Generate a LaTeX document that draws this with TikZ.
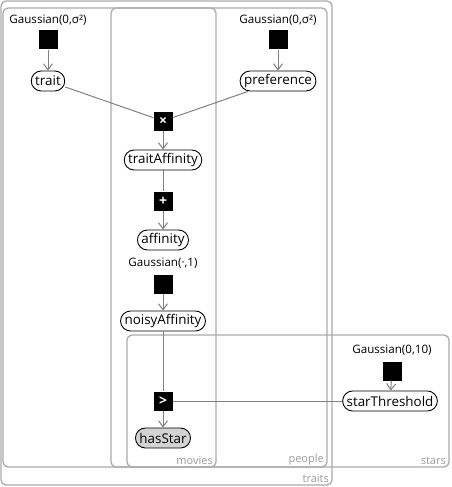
\documentclass[tikz,border=0pt]{standalone}
\usepackage{fontspec}
\setmainfont{Open Sans}
\usepackage{tikz}
\usepackage{xcolor}
\usetikzlibrary{arrows.meta,positioning}
\definecolor{PlateGray}{HTML}{ABABAB}
\definecolor{EdgeGray}{HTML}{808080}
\definecolor{ObsGray}{HTML}{D3D3D3}

\begin{document}
\begin{tikzpicture}[x=1pt, y=-1pt, >={Straight Barb[length=6pt,width=9pt]},
    var/.style={draw, line width=0.9pt, fill=white, rounded corners=10pt, minimum height=20pt, inner xsep=4pt, inner ysep=0pt, font=\fontsize{13.4}{14}\selectfont},
    obs/.style={var, fill=ObsGray},
    factor/.style={fill=black, minimum size=19pt, inner sep=0pt, text=white, font=\fontsize{14}{14}\selectfont\bfseries},
    dist/.style={font=\fontsize{11.6}{12}\selectfont},
    edge/.style={EdgeGray, line width=1pt},
    plate/.style={PlateGray, line width=1.3pt, rounded corners=5pt},
    platelabel/.style={text=PlateGray!90!black, anchor=south east, inner sep=1pt, font=\fontsize{11}{12}\selectfont}]
    \useasboundingbox (0,0) rectangle (451,487);

    % Plates
    \draw[plate] (1,1) rectangle (332,485);
    \node[platelabel] (traitslbl) at (330,484) {traits};
    \draw[plate] (3,8) rectangle (327,467);
    \node[platelabel] (peoplelbl) at (325,466) {people};
    \draw[plate] (111,8) rectangle (216,467);
    \node[platelabel] (movieslbl) at (214,466) {movies};
    \draw[plate] (127,335) rectangle (449,467);
    \node[platelabel] (starslbl) at (447,466) {stars};

    % Trait and preference priors
    \node[dist] (gtraitlbl) at (48,20) {Gaussian(0,σ²)};
    \node[factor] (gtrait) at (48,40) {};
    \node[var] (trait) at (48,81) {trait};
    \node[dist] (gpreflbl) at (278,20) {Gaussian(0,σ²)};
    \node[factor] (gpref) at (278,40) {};
    \node[var] (preference) at (278,81) {preference};

    % Affinity chain
    \node[factor] (times) at (163,121) {×};
    \node[var] (traitAffinity) at (163,160) {traitAffinity};
    \node[factor] (plus) at (163,201) {+};
    \node[var] (affinity) at (163,240) {affinity};
    \node[dist] (gnoisylbl) at (163,263) {Gaussian(·,1)};
    \node[factor] (gnoisy) at (163,284) {};
    \node[var] (noisyAffinity) at (163,321) {noisyAffinity};
    \node[factor] (greater) at (163,401) {>};
    \node[obs] (hasStar) at (163,438) {hasStar};

    % Star threshold
    \node[dist] (gstarlbl) at (392,350) {Gaussian(0,10)};
    \node[factor] (gstar) at (392,371) {};
    \node[var] (starThreshold) at (390,401) {starThreshold};

    % Edges
    \draw[edge, ->] (gtrait) -- (trait);
    \draw[edge, ->] (gpref) -- (preference);
    \draw[edge] (trait) -- (times);
    \draw[edge] (preference) -- (times);
    \draw[edge, ->] (times) -- (traitAffinity);
    \draw[edge] (traitAffinity) -- (plus);
    \draw[edge, ->] (plus) -- (affinity);
    \draw[edge, ->] (gnoisy) -- (noisyAffinity);
    \draw[edge] (noisyAffinity) -- (greater);
    \draw[edge] (starThreshold) -- (greater);
    \draw[edge, ->] (gstar) -- (starThreshold);
    \draw[edge, ->] (greater) -- (hasStar);

\end{tikzpicture}
\end{document}
